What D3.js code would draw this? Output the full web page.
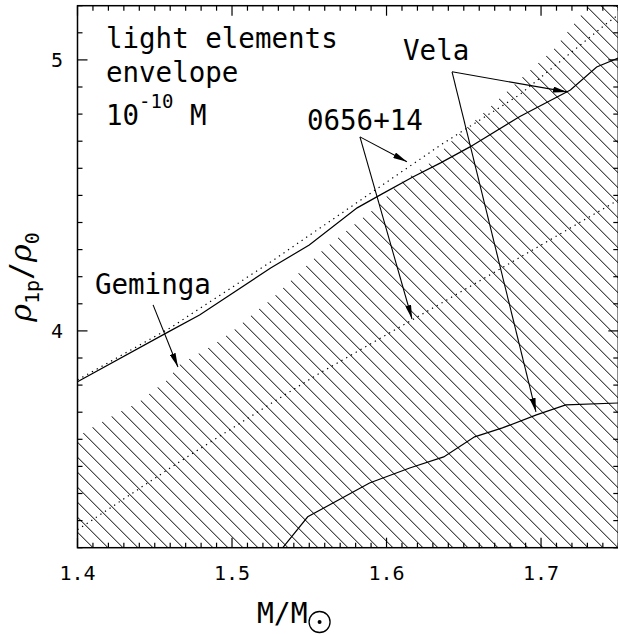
<!DOCTYPE html>
<html>
<head>
<meta charset="utf-8">
<script src="https://cdn.jsdelivr.net/npm/d3@7"></script>
<style>
  body { margin: 0; background: #fff; }
  svg { display: block; }
  text { font-family: "DejaVu Sans Mono", monospace; fill: #000; }
</style>
</head>
<body>
<svg id="chart" width="618" height="634"></svg>
<script>
// Geminga: upper edge of the hatched region
const gemingaMass = [1.400, 1.409, 1.426, 1.439, 1.458, 1.466, 1.488, 1.503, 1.515, 1.525, 1.559, 1.583, 1.594, 1.607, 1.628, 1.643, 1.665, 1.686, 1.708, 1.727, 1.732, 1.750]
const gemingaRho  = [3.609, 3.642, 3.697, 3.734, 3.819, 3.875, 3.948, 4.011, 4.070, 4.114, 4.299, 4.410, 4.458, 4.539, 4.620, 4.705, 4.815, 4.926, 5.037, 5.173, 5.203, 5.300]

// Vela: two solid curves
const velaUpperMass = [1.400, 1.460, 1.479, 1.525, 1.550, 1.581, 1.596, 1.617, 1.635, 1.654, 1.686, 1.719, 1.736, 1.750]
const velaUpperRho  = [3.812, 4.000, 4.059, 4.232, 4.317, 4.454, 4.502, 4.568, 4.620, 4.679, 4.790, 4.889, 4.974, 5.007]
const velaLowerMass = [1.530, 1.549, 1.589, 1.615, 1.637, 1.657, 1.675, 1.697, 1.716, 1.750]
const velaLowerRho  = [3.180, 3.314, 3.439, 3.494, 3.535, 3.609, 3.642, 3.690, 3.727, 3.734]

// 0656+14: two dotted curves
const pscUpperMass = [1.400, 1.460, 1.527, 1.635, 1.686, 1.743, 1.750]
const pscUpperRho  = [3.819, 4.011, 4.262, 4.686, 4.871, 5.137, 5.166]
const pscLowerMass = [1.400, 1.466, 1.531, 1.557, 1.639, 1.750]
const pscLowerRho  = [3.266, 3.517, 3.753, 3.845, 4.114, 4.483]

const xTickLabels = ['1.4', '1.5', '1.6', '1.7']
const yTickLabels = ['4', '5']

const svg = d3.select('#chart')
const box = { left: 77.5, right: 618.3, top: 5.7, bottom: 547.7 }

const x = d3.scaleLinear().domain([1.4, 1.75]).range([box.left, box.right])
const y = d3.scaleLinear().domain([3.2, 5.2]).range([box.bottom, box.top])

const pts = (ms, rs) => ms.map((m, i) => [m, rs[i]])
const line = d3.line().x(d => x(d[0])).y(d => y(d[1]))

const defs = svg.append('defs')
defs.append('clipPath').attr('id', 'plotClip')
  .append('rect')
  .attr('x', box.left).attr('y', box.top)
  .attr('width', box.right - box.left).attr('height', box.bottom - box.top)

const area = d3.area().x(d => x(d[0])).y0(y(3.1)).y1(d => y(d[1]))
defs.append('clipPath').attr('id', 'gemClip')
  .append('path').attr('d', area(pts(gemingaMass, gemingaRho)))

defs.append('marker')
  .attr('id', 'head')
  .attr('markerUnits', 'userSpaceOnUse')
  .attr('viewBox', '0 0 14 6')
  .attr('refX', 14).attr('refY', 3)
  .attr('markerWidth', 14).attr('markerHeight', 6)
  .attr('orient', 'auto')
  .append('path').attr('d', 'M0,0 L14,3 L0,6 Z').attr('fill', '#000')

const plot = svg.append('g').attr('clip-path', 'url(#plotClip)')

// hatching for the Geminga region
const step = 15
const k0 = 78 - box.bottom
const hatch = plot.append('g').attr('clip-path', 'url(#gemClip)')
hatch.selectAll('line')
    .data(d3.range(0, 75))
  .enter().append('line')
    .attr('x1', n => k0 + n * step + box.top)
    .attr('y1', box.top)
    .attr('x2', n => k0 + n * step + box.bottom)
    .attr('y2', box.bottom)
    .attr('stroke', '#000')
    .attr('stroke-width', 1)

const curves = [
  { d: pts(velaUpperMass, velaUpperRho), dash: null },
  { d: pts(velaLowerMass, velaLowerRho), dash: null },
  { d: pts(pscUpperMass, pscUpperRho), dash: '1.3,4.2' },
  { d: pts(pscLowerMass, pscLowerRho), dash: '1.3,4.2' }
]
plot.selectAll('path.curve')
    .data(curves)
  .enter().append('path')
    .attr('class', 'curve')
    .attr('d', c => line(c.d))
    .attr('fill', 'none')
    .attr('stroke', '#000')
    .attr('stroke-width', 1.2)
    .attr('stroke-dasharray', c => c.dash)

// frame and ticks on all four sides
svg.append('rect')
  .attr('x', box.left).attr('y', box.top)
  .attr('width', box.right - box.left).attr('height', box.bottom - box.top)
  .attr('fill', 'none').attr('stroke', '#000').attr('stroke-width', 1.5)

const ticks = svg.append('g').attr('stroke', '#000').attr('stroke-width', 1.2)
const xMinor = d3.range(140, 176).map(v => v / 100)
xMinor.forEach(v => {
  const len = Math.round(v * 100) % 10 === 0 ? 10 : 5
  ticks.append('line').attr('x1', x(v)).attr('x2', x(v)).attr('y1', box.bottom).attr('y2', box.bottom - len)
  ticks.append('line').attr('x1', x(v)).attr('x2', x(v)).attr('y1', box.top).attr('y2', box.top + len)
})
const yMinor = d3.range(32, 53).map(v => v / 10)
yMinor.forEach(v => {
  const len = Math.round(v * 10) % 10 === 0 ? 10 : 5
  ticks.append('line').attr('y1', y(v)).attr('y2', y(v)).attr('x1', box.left).attr('x2', box.left + len)
  ticks.append('line').attr('y1', y(v)).attr('y2', y(v)).attr('x1', box.right).attr('x2', box.right - len)
})

svg.selectAll('text.xtick')
    .data(xTickLabels)
  .enter().append('text')
    .attr('class', 'xtick')
    .attr('x', d => x(+d))
    .attr('y', 580)
    .attr('text-anchor', 'middle')
    .attr('font-size', 20)
    .text(d => d)

svg.selectAll('text.ytick')
    .data(yTickLabels)
  .enter().append('text')
    .attr('class', 'ytick')
    .attr('x', 63)
    .attr('y', d => y(+d) + 7)
    .attr('text-anchor', 'end')
    .attr('font-size', 20)
    .text(d => d)

// axis titles
const xt = svg.append('text').attr('x', 257).attr('y', 623).attr('font-size', 28).text('M/M')
const xtEnd = 257 + xt.node().getComputedTextLength()
svg.append('circle').attr('cx', xtEnd + 12).attr('cy', 622).attr('r', 10.5)
  .attr('fill', 'none').attr('stroke', '#000').attr('stroke-width', 1.3)
svg.append('circle').attr('cx', xtEnd + 12).attr('cy', 622).attr('r', 2).attr('fill', '#000')

const yt = svg.append('text')
  .attr('transform', 'translate(31,277) rotate(-90)')
  .attr('text-anchor', 'middle')
  .attr('font-size', 30)
yt.append('tspan').attr('font-family', 'DejaVu Serif').attr('font-style', 'italic').text('ρ')
yt.append('tspan').attr('font-size', 20).attr('dy', 8).text('1p')
yt.append('tspan').attr('dy', -8).text('/')
yt.append('tspan').attr('font-family', 'DejaVu Serif').attr('font-style', 'italic').text('ρ')
yt.append('tspan').attr('font-size', 20).attr('dy', 8).text('0')

// labels inside the plot
const note = svg.append('g').attr('font-size', 27.5)
note.append('text').attr('x', x(1.4184)).attr('y', y(5.044)).text('light elements')
note.append('text').attr('x', x(1.4184)).attr('y', y(4.919)).text('envelope')
const tenLine = note.append('text').attr('x', x(1.4184)).attr('y', y(4.760))
tenLine.append('tspan').text('10')
tenLine.append('tspan').attr('font-size', 19).attr('dy', -17).text('-10')
tenLine.append('tspan').attr('dy', 17).text(' M')

const labels = [
  { text: 'Geminga', at: [1.4113, 4.136], from: [1.4489, 4.096], to: [[1.465, 3.867]] },
  { text: '0656+14', at: [1.5485, 4.742], from: [1.5828, 4.716], to: [[1.6132, 4.624], [1.6165, 4.044]] },
  { text: 'Vela', at: [1.6107, 5.000], from: [1.6424, 4.956], to: [[1.7168, 4.882], [1.6967, 3.701]] }
]
labels.forEach(l => {
  note.append('text').attr('x', x(l.at[0])).attr('y', y(l.at[1])).text(l.text)
  l.to.forEach(t => {
    svg.append('line')
      .attr('x1', x(l.from[0])).attr('y1', y(l.from[1]))
      .attr('x2', x(t[0])).attr('y2', y(t[1]))
      .attr('stroke', '#000').attr('stroke-width', 1.1)
      .attr('marker-end', 'url(#head)')
  })
})
</script>
</body>
</html>
